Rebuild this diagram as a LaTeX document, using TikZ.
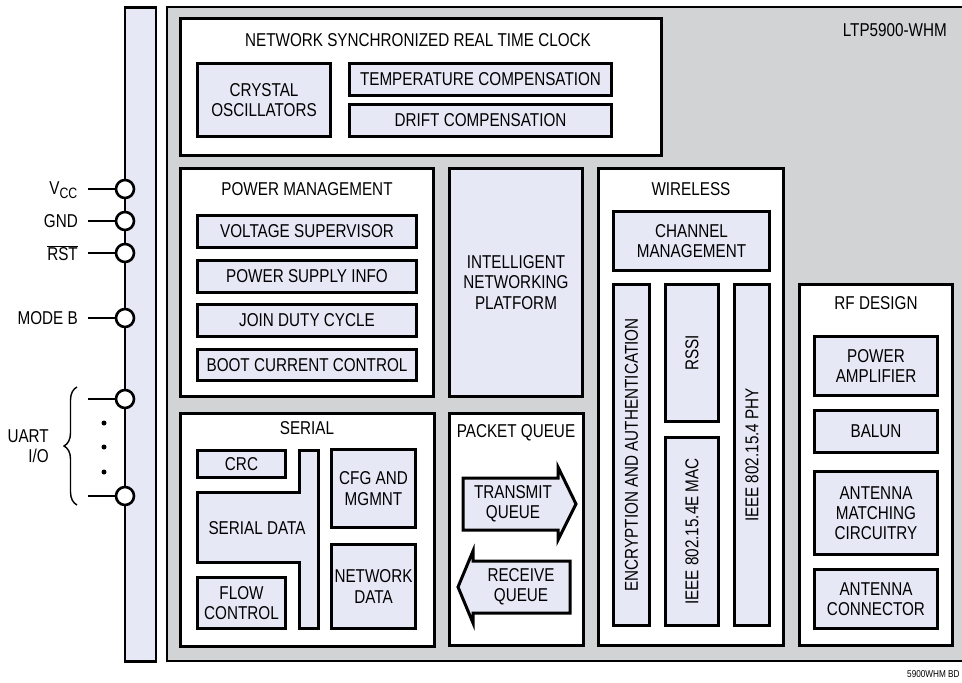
\documentclass[tikz,border=0pt]{standalone}
\usepackage{fontspec}
\setmainfont{Liberation Sans}[FakeStretch=0.82]
\usetikzlibrary{decorations.pathreplacing}
\definecolor{lb}{RGB}{230,232,246}
\definecolor{gr}{RGB}{210,211,213}
\tikzset{
 bx/.style={draw=black, fill=lb, line width=3pt, inner sep=0pt, align=center},
 panel/.style={draw=black, fill=white, line width=2.8pt, inner sep=0pt},
 ttl/.style={inner sep=0pt, align=center},
 pinc/.style={circle, draw=black, fill=white, line width=2.6pt, minimum size=18pt, inner sep=0pt},
 pinl/.style={line width=2.8pt},
 plab/.style={inner sep=0pt, anchor=east, align=right},
 dotc/.style={circle, fill=black, minimum size=5pt, inner sep=0pt},
}
\newcommand\blk[7]{\node[#1, minimum width={(#5-#3-2.8)*1pt}, minimum height={(#6-#4-2.8)*1pt}] (#2) at ({(#3+#5)/2},{(#4+#6)/2}) {#7};}
\newcommand\vblk[6]{\node[bx, rotate=90, minimum width={(#5-#3-2.8)*1pt}, minimum height={(#4-#2-2.8)*1pt}] (#1) at ({(#2+#4)/2},{(#3+#5)/2}) {#6};}
\begin{document}
\begin{tikzpicture}[x=1pt,y=-1pt,font=\fontsize{18.6}{20.3}\selectfont]
\useasboundingbox (0,0) rectangle (962,683);
% outer gray package and left bar
\node[draw=black, fill=gr, line width=2.2pt, minimum width=808pt, minimum height=654pt, inner sep=0pt] (pkg) at (571,334) {};
\node[draw=black, fill=lb, line width=2.2pt, minimum width=31pt, minimum height=654pt, inner sep=0pt] (bar) at (140.5,334.5) {};
\node[ttl, anchor=east] (ltp) at (947,30) {LTP5900-WHM};
% panels
\blk{panel}{nsrtc}{179}{17}{663}{157}{}
\blk{panel}{pwr}{179}{167}{435}{398}{}
\blk{bx}{inp}{448}{167}{584}{398}{INTELLIGENT\\NETWORKING\\PLATFORM}
\blk{panel}{wl}{597}{167}{785}{647}{}
\blk{panel}{ser}{179}{412}{436}{648}{}
\blk{panel}{pq}{448}{412}{585}{647}{}
\blk{panel}{rf}{798}{283}{954}{647}{}
% titles
\node[ttl] (tnsrtc) at (418,40) {NETWORK SYNCHRONIZED REAL TIME CLOCK};
\node[ttl] (tpwr) at (307,189) {POWER MANAGEMENT};
\node[ttl] (tser) at (307,428) {SERIAL};
\node[ttl] (tpq) at (516,433) {PACKET QUEUE};
\node[ttl] (twl) at (691,189) {WIRELESS};
\node[ttl] (trf) at (876,303) {RF DESIGN};
% clock
\blk{bx}{crys}{196}{62}{332}{138}{CRYSTAL\\OSCILLATORS}
\blk{bx}{temp}{348}{62}{613}{97}{TEMPERATURE COMPENSATION}
\blk{bx}{drift}{348}{103}{613}{138}{DRIFT COMPENSATION}
% power
\blk{bx}{volt}{196}{214}{418}{249}{VOLTAGE SUPERVISOR}
\blk{bx}{psi}{196}{259}{418}{294}{POWER SUPPLY INFO}
\blk{bx}{jdc}{196}{303}{418}{338}{JOIN DUTY CYCLE}
\blk{bx}{bcc}{196}{348}{418}{382}{BOOT CURRENT CONTROL}
% serial
\blk{bx}{crc}{196}{449}{287}{479}{CRC}
\blk{bx}{flow}{196}{576}{287}{630}{FLOW\\CONTROL}
\blk{bx}{cfg}{330}{448}{417}{529}{CFG AND\\MGMNT}
\blk{bx}{ndata}{330}{543}{417}{630}{NETWORK\\DATA}
\draw[bx] (299.4,450.4) -- (318.6,450.4) -- (318.6,628.6) -- (299.4,628.6) -- (299.4,562.6) -- (197.4,562.6) -- (197.4,492.4) -- (299.4,492.4) -- cycle;
\node[ttl] (sdata) at (257,528) {SERIAL DATA};
% packet queue
\draw[bx] (463,478) -- (558,478) -- (558,467) -- (576,504) -- (558,540) -- (558,530) -- (463,530) -- cycle;
\node[ttl] (txq) at (513,504) {TRANSMIT\\QUEUE};
\draw[bx] (458,587) -- (473,551) -- (473,561) -- (570,561) -- (570,613) -- (473,613) -- (473,623) -- cycle;
\node[ttl] (rxq) at (521,587) {RECEIVE\\QUEUE};
% wireless
\blk{bx}{chan}{612}{210}{771}{272}{CHANNEL\\MANAGEMENT}
\vblk{enc}{612}{283}{651}{627}{ENCRYPTION AND AUTHENTICATION}
\vblk{rssi}{664}{283}{720}{423}{RSSI}
\vblk{mac}{664}{436}{720}{627}{IEEE 802.15.4E MAC}
\vblk{phy}{733}{283}{771}{627}{IEEE 802.15.4 PHY}
% rf
\blk{bx}{pa}{813}{335}{939}{397}{POWER\\AMPLIFIER}
\blk{bx}{balun}{813}{409}{939}{454}{BALUN}
\blk{bx}{amc}{813}{470}{939}{556}{ANTENNA\\MATCHING\\CIRCUITRY}
\blk{bx}{acon}{813}{568}{939}{630}{ANTENNA\\CONNECTOR}
% pins
\coordinate (evcc) at (88,189);
\coordinate (egnd) at (88,221);
\coordinate (erst) at (88,253);
\coordinate (emode) at (88,318);
\coordinate (eu1) at (88,399);
\coordinate (eu2) at (88,496);
\node[pinc] (pvcc) at (125,189) {};
\node[pinc] (pgnd) at (125,221) {};
\node[pinc] (prst) at (125,253) {};
\node[pinc] (pmode) at (125,318) {};
\node[pinc] (pu1) at (125,399) {};
\node[pinc] (pu2) at (125,496) {};
\draw[pinl] (evcc) -- (pvcc);
\draw[pinl] (egnd) -- (pgnd);
\draw[pinl] (erst) -- (prst);
\draw[pinl] (emode) -- (pmode);
\draw[pinl] (eu1) -- (pu1);
\draw[pinl] (eu2) -- (pu2);
\node[plab] (lvcc) at (78,190) {V\textsubscript{\fontsize{15}{16}\selectfont CC}};
\node[plab] (lgnd) at (78,221) {GND};
\node[plab] (lrst) at (78,253) {$\overline{\mbox{RST}}$};
\node[plab] (lmode) at (78,318) {MODE B};
\node[dotc] (d1) at (104,423) {};
\node[dotc] (d2) at (104,447) {};
\node[dotc] (d3) at (104,472) {};
\draw[line width=1.4pt, decorate, decoration={brace, amplitude=13pt}] (77,505) -- (77,387);
\node[plab] (luart) at (49,446) {UART\\I/O};
\node[inner sep=0pt, anchor=west, font=\fontsize{10}{11}\selectfont] (fig) at (907,674) {5900WHM BD};
\end{tikzpicture}
\end{document}
